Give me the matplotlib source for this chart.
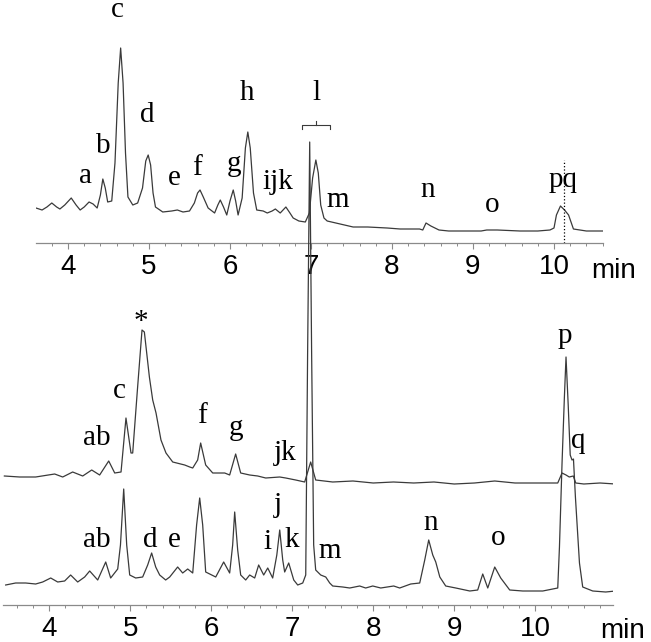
import matplotlib.pyplot as plt
import matplotlib.ticker as mticker

# ---- top chromatogram (time in min, intensity a.u.) ----
top_t = [3.605, 3.68, 3.74, 3.80, 3.86, 3.90, 3.96, 4.04, 4.10, 4.15, 4.20, 4.26,
         4.31, 4.36, 4.40, 4.43, 4.46, 4.49, 4.54, 4.58, 4.62, 4.65, 4.68, 4.71,
         4.74, 4.80, 4.86, 4.92, 4.96, 4.99, 5.02, 5.05, 5.08, 5.17, 5.28, 5.35,
         5.42, 5.50, 5.56, 5.60, 5.63, 5.67, 5.73, 5.81, 5.85, 5.88, 5.92, 5.96,
         6.00, 6.04, 6.07, 6.10, 6.15, 6.19, 6.22, 6.25, 6.29, 6.33, 6.41, 6.46,
         6.52, 6.56, 6.62, 6.69, 6.74, 6.78, 6.85, 6.93, 6.98, 7.02, 7.06, 7.09,
         7.12, 7.16, 7.20, 7.36, 7.52, 7.70, 7.94, 8.10, 8.34, 8.38, 8.42, 8.48,
         8.58, 8.70, 8.90, 9.10, 9.17, 9.30, 9.58, 9.80, 9.95, 10.00, 10.03, 10.08,
         10.13, 10.18, 10.24, 10.40, 10.61]
top_y = [35, 33, 36, 40, 36, 34, 38, 45, 38, 33, 36, 41,
         39, 35, 48, 64, 55, 41, 42, 80, 160, 195, 160, 90,
         46, 38, 40, 55, 82, 88, 78, 50, 36, 31, 32, 33,
         31, 32, 40, 50, 53, 46, 35, 30, 38, 43, 36, 28,
         42, 53, 42, 28, 45, 95, 111, 95, 50, 33, 32, 30,
         32, 34, 30, 36, 30, 25, 22, 21, 30, 65, 83, 70,
         38, 25, 22, 19, 16, 16, 15, 14, 14, 13, 20, 17,
         13, 12, 12, 12, 13, 13, 12, 12, 13, 15, 28, 37,
         33, 28, 14, 12, 12]

top_labels = ['a', 'b', 'c', 'd', 'e', 'f', 'g', 'h', 'ijk', 'l', 'm', 'n', 'o', 'pq']
top_label_t = [4.22, 4.43, 4.61, 4.98, 5.31, 5.59, 6.05, 6.21, 6.59, 7.07, 7.33, 8.44, 9.24, 10.11]
top_label_y = [60, 90, 226, 121, 58, 68, 72, 143, 54, 143, 36, 46, 31, 56]

pq_marker_t = 10.12
pq_marker_top = 83
bracket_t = (6.89, 7.23)
bracket_y = 118

# ---- bottom panel, upper (offset) trace ----
up_t = [3.447, 3.636, 3.833, 4.068, 4.167, 4.29, 4.414, 4.525, 4.623, 4.735,
        4.809, 4.887, 4.948, 5.01, 5.031, 5.089, 5.146, 5.175, 5.237, 5.278,
        5.319, 5.38, 5.442, 5.525, 5.673, 5.735, 5.772, 5.833, 5.87, 5.932,
        6.019, 6.167, 6.228, 6.302, 6.364, 6.475, 6.574, 6.673, 6.846, 6.92,
        7.043, 7.154, 7.228, 7.29, 7.50, 7.75, 8.00, 8.25, 8.50, 8.75,
        9.00, 9.25, 9.50, 9.75, 10.0, 10.278, 10.331, 10.38, 10.42, 10.47,
        10.50, 10.60, 10.80, 10.99]
up_y = [129, 128, 128, 131, 128, 133, 129, 135, 130, 144,
        132, 133, 187, 152, 152, 215, 275, 273, 228, 205,
        192, 165, 152, 143, 140, 138, 137, 145, 162, 140,
        132, 132, 130, 151, 132, 130, 129, 127, 128, 127,
        125, 123, 143, 125, 123, 124, 122, 123, 122, 123,
        121, 122, 124, 122, 122, 122, 132, 130, 128, 129,
        122, 121, 122, 121]

# ---- bottom panel, lower trace ----
low_t = [3.463, 3.586, 3.71, 3.833, 3.92, 4.019, 4.105, 4.191, 4.265, 4.352,
         4.438, 4.50, 4.599, 4.698, 4.759, 4.846, 4.88, 4.92, 4.957, 4.994,
         5.068, 5.154, 5.216, 5.265, 5.315, 5.364, 5.438, 5.488, 5.586, 5.648,
         5.71, 5.772, 5.82, 5.858, 5.895, 5.932, 6.056, 6.154, 6.228, 6.265,
         6.29, 6.327, 6.364, 6.426, 6.475, 6.537, 6.586, 6.648, 6.698, 6.759,
         6.81, 6.846, 6.883, 6.907, 6.957, 7.019, 7.068, 7.13, 7.167, 7.19,
         7.216, 7.24, 7.265, 7.29, 7.352, 7.414, 7.463, 7.50, 7.624, 7.71,
         7.833, 7.907, 7.994, 8.093, 8.253, 8.327, 8.463, 8.574, 8.636, 8.685,
         8.735, 8.772, 8.822, 8.895, 9.019, 9.192, 9.29, 9.352, 9.414, 9.50,
         9.574, 9.685, 9.846, 10.093, 10.278, 10.299, 10.331, 10.36, 10.38, 10.407,
         10.432, 10.454, 10.472, 10.496, 10.546, 10.586, 10.71, 10.87, 10.99]
low_y = [20, 22, 22, 21, 23, 27, 23, 24, 30, 23,
         28, 34, 25, 43, 27, 36, 60, 116, 60, 30,
         27, 28, 40, 52, 38, 30, 25, 28, 38, 32,
         36, 32, 80, 107, 80, 33, 28, 43, 32, 60,
         93, 55, 30, 25, 30, 27, 40, 30, 37, 27,
         50, 75, 45, 33, 42, 25, 20, 22, 30, 250,
         463, 250, 60, 35, 30, 28, 22, 19, 18, 17,
         19, 17, 19, 17, 19, 17, 21, 22, 45, 65,
         50, 43, 28, 19, 17, 14, 15, 31, 17, 38,
         27, 15, 14, 14, 17, 58, 142, 208, 248, 200,
         150, 145, 146, 108, 42, 18, 14, 13, 14]

bot_labels = ['*', 'ab', 'c', 'f', 'g', 'jk',
              'ab', 'd', 'e', 'i', 'j', 'k', 'm', 'n', 'o', 'p', 'q']
bot_label_t = [5.13, 4.59, 4.87, 5.88, 6.31, 6.91,
               4.59, 5.25, 5.55, 6.70, 6.82, 6.99, 7.46, 8.71, 9.54, 10.36, 10.53]
bot_label_y = [276, 160, 207, 182, 170, 145,
               58, 58, 58, 56, 93, 58, 47, 75, 60, 262, 157]

ticks = [4, 5, 6, 7, 8, 9, 10]

line_c = '#3a3a3a'
axis_c = '#8a8a8a'
W, H = 651, 642

fig = plt.figure(figsize=(W / 100, H / 100), dpi=100)
ax_top = fig.add_axes([36 / W, (H - 243) / H, 567 / W, 243 / H])
ax_bot = fig.add_axes([3 / W, (H - 605) / H, 610 / W, 605 / H])

serif = {'family': 'Liberation Serif', 'size': 21}

for ax in (ax_top, ax_bot):
    ax.patch.set_alpha(0)
    for s in ('left', 'right', 'top'):
        ax.spines[s].set_visible(False)
    ax.spines['bottom'].set_color(axis_c)
    ax.spines['bottom'].set_linewidth(0.9)
    ax.set_yticks([])
    ax.set_xticks(ticks)
    ax.set_xticklabels([str(t) for t in ticks], family='Liberation Sans', fontsize=20)
    ax.xaxis.set_minor_locator(mticker.MultipleLocator(0.2))
    ax.tick_params(axis='x', which='major', direction='out', length=4, width=0.8,
                   color=axis_c, pad=4)
    ax.tick_params(axis='x', which='minor', direction='out', length=2.3, width=0.7,
                   color=axis_c)

ax_top.set_xlim(3.605, 10.605)
ax_top.set_ylim(0, 243)
ax_bot.set_xlim(3.43, 10.96)
ax_bot.set_ylim(0, 605)

ax_top.plot(top_t, top_y, color=line_c, lw=0.9)
ax_top.vlines(pq_marker_t, 0, pq_marker_top, colors='black', linestyles=':', lw=0.9)
b0, b1 = bracket_t
bm = (b0 + b1) / 2
ax_top.plot([b0, b0, b1, b1], [bracket_y - 4, bracket_y, bracket_y, bracket_y - 4],
            color=line_c, lw=0.8)
ax_top.plot([bm, bm], [bracket_y, bracket_y + 4], color=line_c, lw=0.8)
for s, t, y in zip(top_labels, top_label_t, top_label_y):
    ax_top.text(t, y, s, ha='center', va='baseline', fontdict=serif, clip_on=False)

ax_bot.plot(up_t, up_y, color=line_c, lw=0.9)
ax_bot.plot(low_t, low_y, color=line_c, lw=0.9)
for s, t, y in zip(bot_labels, bot_label_t, bot_label_y):
    ax_bot.text(t, y, s, ha='center', va='baseline', fontdict=serif, clip_on=False)

fig.text(614 / W, 1 - 278 / H, 'min', ha='center', va='baseline',
         family='Liberation Sans', fontsize=20)
fig.text(623 / W, 1 - 638 / H, 'min', ha='center', va='baseline',
         family='Liberation Sans', fontsize=20)

fig.savefig('out.png', dpi=100)
